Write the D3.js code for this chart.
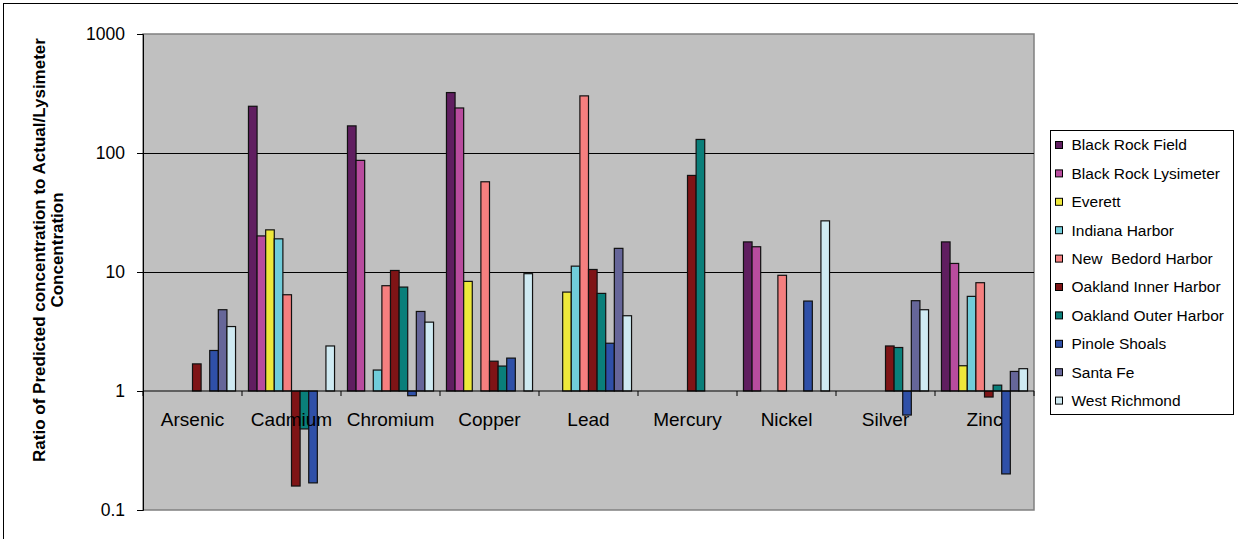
<!DOCTYPE html>
<html>
<head>
<meta charset="utf-8">
<script src="https://cdn.jsdelivr.net/npm/d3@7"></script>
<style>
  body { margin: 0; background: #fff; }
  svg { display: block; font-family: Arial, "Liberation Sans", sans-serif; }
</style>
</head>
<body>
<svg id="chart" width="1238" height="539"></svg>
<script>
// Categories (metals)
var categories = ["Arsenic", "Cadmium", "Chromium", "Copper", "Lead", "Mercury", "Nickel", "Silver", "Zinc"];

// Series names and colours
var seriesNames = ["Black Rock Field", "Black Rock Lysimeter", "Everett", "Indiana Harbor", "New  Bedord Harbor",
  "Oakland Inner Harbor", "Oakland Outer Harbor", "Pinole Shoals", "Santa Fe", "West Richmond"];
var seriesColors = ["#601E60", "#B84C9E", "#EEE83A", "#70CCDA", "#F57F7F",
  "#7F1416", "#0A7F7A", "#2F50A8", "#666699", "#CFEAF2"];

// Ratio values per series, one per category (null = no bar)
var blackRockField     = [null, 247,   169,   322,  null, null, 17.9, null,  17.9];
var blackRockLysimeter = [null, 20.1,  86.7,  239,  null, null, 16.3, null,  11.8];
var everett            = [null, 22.6,  null,  8.34, 6.78, null, null, null,  1.63];
var indianaHarbor      = [null, 19.0,  1.50,  null, 11.2, null, null, null,  6.24];
var newBedordHarbor    = [null, 6.44,  7.67,  57.3, 302,  null, 9.38, null,  8.13];
var oaklandInner       = [1.69, 0.159, 10.3,  1.78, 10.5, 64.8, null, 2.39,  0.89];
var oaklandOuter       = [null, 0.48,  7.47,  1.62, 6.61, 130,  null, 2.32,  1.12];
var pinoleShoals       = [2.19, 0.169, 0.913, 1.89, 2.52, null, 5.70, 0.628, 0.201];
var santaFe            = [4.82, null,  4.66,  null, 15.8, null, null, 5.74,  1.46];
var westRichmond       = [3.48, 2.39,  3.79,  9.68, 4.29, null, 26.9, 4.82,  1.54];

var seriesValues = [blackRockField, blackRockLysimeter, everett, indianaHarbor, newBedordHarbor,
  oaklandInner, oaklandOuter, pinoleShoals, santaFe, westRichmond];

// Y tick labels
var yTicks = [0.1, 1, 10, 100, 1000];
var yTitle = ["Ratio of Predicted concentration to Actual/Lysimeter", "Concentration"];

// Plot area
var plot = { x0: 143, x1: 1034, y0: 34, y1: 510 };

var svg = d3.select("#chart");

// Outer chart frame (cut off on the right and bottom)
svg.append("rect")
  .attr("x", 3.5).attr("y", 3.5)
  .attr("width", 1260).attr("height", 560)
  .style("fill", "#fff")
  .style("stroke", "#000")
  .style("stroke-width", 1);

// Scales
var y = d3.scaleLog().domain([0.1, 1000]).range([plot.y1, plot.y0]);
var x0 = d3.scaleBand().domain(categories).range([plot.x0, plot.x1]).padding(0);
var x1 = d3.scaleBand().domain(d3.range(seriesNames.length))
  .range([0, x0.bandwidth()]).paddingInner(0).paddingOuter(0.75);

// Plot background
svg.append("rect")
  .attr("x", plot.x0).attr("y", plot.y0)
  .attr("width", plot.x1 - plot.x0).attr("height", plot.y1 - plot.y0)
  .style("fill", "#C0C0C0")
  .style("stroke", "#808080")
  .style("stroke-width", 1.5);

// Gridlines
svg.append("g").selectAll("line")
  .data([10, 100])
  .enter().append("line")
    .attr("x1", plot.x0).attr("x2", plot.x1)
    .attr("y1", function(d) { return Math.round(y(d)) + 0.5; })
    .attr("y2", function(d) { return Math.round(y(d)) + 0.5; })
    .style("stroke", "#000")
    .style("stroke-width", 1);

// Bars, drawn from the baseline at 1
var base = y(1);
var groups = svg.append("g").selectAll("g")
  .data(seriesValues)
  .enter().append("g")
    .style("fill", function(d, i) { return seriesColors[i]; });

groups.each(function(vals, si) {
  d3.select(this).selectAll("rect")
    .data(vals.map(function(v, ci) { return { v: v, c: categories[ci] }; })
      .filter(function(d) { return d.v != null; }))
    .enter().append("rect")
      .attr("x", function(d) { return x0(d.c) + x1(si); })
      .attr("y", function(d) { return Math.min(y(d.v), base); })
      .attr("width", x1.bandwidth())
      .attr("height", function(d) { return Math.abs(base - y(d.v)); })
      .style("stroke", "#111")
      .style("stroke-width", 1.2);
});

// Y axis
var yAxis = d3.axisLeft(y)
  .tickValues(yTicks)
  .tickSize(6)
  .tickFormat(function(d) { return d3.format("~g")(d); });

var yg = svg.append("g")
  .attr("transform", translate(plot.x0, 0))
  .call(yAxis);
yg.select(".domain").style("stroke", "#000");
yg.selectAll(".tick line").style("stroke", "#000");
yg.selectAll(".tick text")
  .attr("x", -18)
  .style("font-size", "17.5px")
  .style("font-family", "Arial, 'Liberation Sans', sans-serif")
  .style("fill", "#000");

// X axis along the baseline (1)
var xg = svg.append("g")
  .attr("transform", translate(0, base));
xg.append("line")
  .attr("x1", plot.x0).attr("x2", plot.x1)
  .attr("y1", 0).attr("y2", 0)
  .style("stroke", "#000");
xg.selectAll("line.tick")
  .data(categories.concat([null]))
  .enter().append("line")
    .attr("class", "tick")
    .attr("x1", function(d) { return d ? x0(d) : plot.x1; })
    .attr("x2", function(d) { return d ? x0(d) : plot.x1; })
    .attr("y1", 0).attr("y2", 5)
    .style("stroke", "#000");
xg.selectAll("text")
  .data(categories)
  .enter().append("text")
    .attr("x", function(d) { return x0(d) + x0.bandwidth() / 2; })
    .attr("y", 35)
    .attr("text-anchor", "middle")
    .style("font-size", "19px")
    .style("fill", "#000")
    .text(function(d) { return d; });

// Y axis title
svg.append("g")
  .attr("transform", translate(45, 250) + " rotate(-90)")
  .selectAll("text")
  .data(yTitle)
  .enter().append("text")
    .attr("x", 0)
    .attr("y", function(d, i) { return i * 18; })
    .attr("text-anchor", "middle")
    .style("font-size", "17px")
    .style("font-weight", "bold")
    .style("fill", "#000")
    .text(function(d) { return d; });

// Legend
var legend = svg.append("g").attr("transform", translate(1050.5, 130.5));
legend.append("rect")
  .attr("width", 183).attr("height", 284)
  .style("fill", "#fff")
  .style("stroke", "#000");

var items = legend.selectAll("g.item")
  .data(seriesNames)
  .enter().append("g")
    .attr("class", "item")
    .attr("transform", function(d, i) { return translate(0, 14.5 + i * 28.4); });
items.append("rect")
  .attr("x", 5).attr("y", -3.5)
  .attr("width", 7).attr("height", 7)
  .style("fill", function(d, i) { return seriesColors[i]; })
  .style("stroke", "#000");
items.append("text")
  .attr("x", 21)
  .attr("dy", "0.35em")
  .style("font-size", "15.5px")
  .style("fill", "#000")
  .style("white-space", "pre")
  .text(function(d) { return d; });

function translate(x, y) {
  return "translate(" + x + " " + y + ")";
}
</script>
</body>
</html>
